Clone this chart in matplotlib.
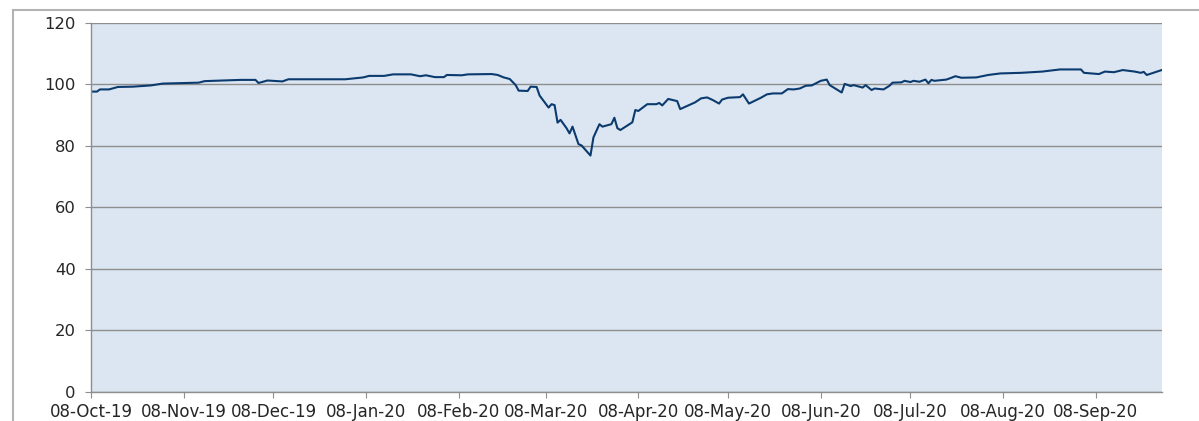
import numpy as np
import pandas as pd
import matplotlib
matplotlib.use("Agg")
import matplotlib.pyplot as plt
import matplotlib.dates as mdates
from matplotlib.patches import Rectangle

# values
dates = [
    "2019-10-08", "2019-10-10", "2019-10-11", "2019-10-14", "2019-10-17", "2019-10-22", "2019-10-28",
    "2019-11-01", "2019-11-13", "2019-11-15", "2019-11-27",
    "2019-12-02", "2019-12-03", "2019-12-06", "2019-12-11", "2019-12-13",
    "2020-01-01", "2020-01-07", "2020-01-09", "2020-01-14", "2020-01-17", "2020-01-23", "2020-01-26",
    "2020-01-28", "2020-01-31",
    "2020-02-03", "2020-02-04", "2020-02-09", "2020-02-11", "2020-02-19", "2020-02-21", "2020-02-23",
    "2020-02-25", "2020-02-27", "2020-02-28",
    "2020-03-02", "2020-03-03", "2020-03-05", "2020-03-06", "2020-03-09", "2020-03-10", "2020-03-11",
    "2020-03-12", "2020-03-13", "2020-03-15", "2020-03-16", "2020-03-17", "2020-03-19", "2020-03-20",
    "2020-03-23", "2020-03-24", "2020-03-26", "2020-03-27", "2020-03-30", "2020-03-31",
    "2020-04-01", "2020-04-02", "2020-04-06", "2020-04-07", "2020-04-08", "2020-04-11", "2020-04-14",
    "2020-04-15", "2020-04-16", "2020-04-18", "2020-04-21", "2020-04-22", "2020-04-27", "2020-04-29",
    "2020-05-01", "2020-05-03", "2020-05-05", "2020-05-06", "2020-05-08", "2020-05-12", "2020-05-13",
    "2020-05-15", "2020-05-19", "2020-05-21", "2020-05-23", "2020-05-26", "2020-05-28", "2020-05-30",
    "2020-06-01", "2020-06-03", "2020-06-05", "2020-06-08", "2020-06-10", "2020-06-11", "2020-06-15",
    "2020-06-16", "2020-06-18", "2020-06-19", "2020-06-22", "2020-06-23", "2020-06-25", "2020-06-26",
    "2020-06-29",
    "2020-07-01", "2020-07-02", "2020-07-05", "2020-07-06", "2020-07-08", "2020-07-09", "2020-07-11",
    "2020-07-13", "2020-07-14", "2020-07-15", "2020-07-16", "2020-07-20", "2020-07-22", "2020-07-23",
    "2020-07-25", "2020-07-30",
    "2020-08-03", "2020-08-07", "2020-08-14", "2020-08-21", "2020-08-27",
    "2020-09-03", "2020-09-04", "2020-09-09", "2020-09-11", "2020-09-14", "2020-09-17", "2020-09-21",
    "2020-09-23", "2020-09-24", "2020-09-25", "2020-09-30",
]
values = [
    97.6, 97.6, 98.3, 98.3, 99.1, 99.2, 99.6,
    100.2, 100.5, 101.0, 101.4,
    101.4, 100.4, 101.2, 100.9, 101.6,
    101.6, 102.2, 102.7, 102.7, 103.2, 103.2, 102.6,
    102.9, 102.3,
    102.3, 103.0, 102.9, 103.2, 103.3, 103.0, 102.2,
    101.7, 99.7, 97.9,
    97.8, 99.2, 99.1, 96.3, 92.4, 93.5, 93.2,
    87.5, 88.4, 85.7, 84.0, 86.2, 80.5, 80.1,
    76.8, 82.7, 87.0, 86.2, 87.0, 89.1,
    85.7, 85.1, 87.6, 91.6, 91.3, 93.5, 93.5,
    93.9, 93.1, 95.2, 94.5, 91.9, 94.1, 95.4,
    95.7, 94.8, 93.7, 95.0, 95.6, 95.8, 96.7,
    93.7, 95.6, 96.7, 97.0, 97.0, 98.4, 98.3,
    98.6, 99.5, 99.6, 101.1, 101.5, 99.7, 97.3,
    100.1, 99.4, 99.7, 98.9, 99.7, 98.1, 98.6,
    98.3,
    99.5, 100.5, 100.6, 101.1, 100.7, 101.1, 100.8,
    101.5, 100.3, 101.4, 101.1, 101.5, 102.2, 102.6,
    102.1, 102.2,
    103.0, 103.5, 103.7, 104.1, 104.8,
    104.8, 103.7, 103.3, 104.1, 103.9, 104.6, 104.1,
    103.7, 104.0, 103.0, 104.6,
]
y_ticks = [0, 20, 40, 60, 80, 100, 120]

x = pd.to_datetime(dates)

fig = plt.figure(figsize=(11.99, 4.21), dpi=100)
ax = fig.add_axes([91 / 1199, 29.3 / 421, 1070.7 / 1199, 369 / 421])

# outer chart frame (runs off the right and bottom edges)
fig.patches.append(Rectangle((13 / 1199, -0.1), 1.2, (421 - 10) / 421 + 0.1,
                             transform=fig.transFigure, fill=False,
                             edgecolor="#b3b3b3", linewidth=1.5))

ax.set_facecolor("#dce6f2")
ax.plot(x, values, color="#0b3b6e", linewidth=1.5, solid_joinstyle="round")

ax.set_ylim(0, 120)
ax.set_yticks(y_ticks)
ax.set_xlim(pd.Timestamp("2019-10-08"), pd.Timestamp("2020-09-30"))
ax.xaxis.set_major_locator(mdates.DayLocator(bymonthday=8))
ax.xaxis.set_major_formatter(mdates.DateFormatter("%d-%b-%y"))

ax.grid(axis="y", color="#8e8e8e", linewidth=1)
ax.set_axisbelow(True)
for s in ["top", "right"]:
    ax.spines[s].set_visible(False)
for s in ["left", "bottom"]:
    ax.spines[s].set_color("#8e8e8e")
    ax.spines[s].set_linewidth(1)

ax.tick_params(axis="y", length=4, color="#8e8e8e", pad=7, labelsize=11.8, labelcolor="#262626")
ax.tick_params(axis="x", length=4, color="#8e8e8e", pad=4, labelsize=12, labelcolor="#262626")

fig.savefig("out.png", dpi=100)
